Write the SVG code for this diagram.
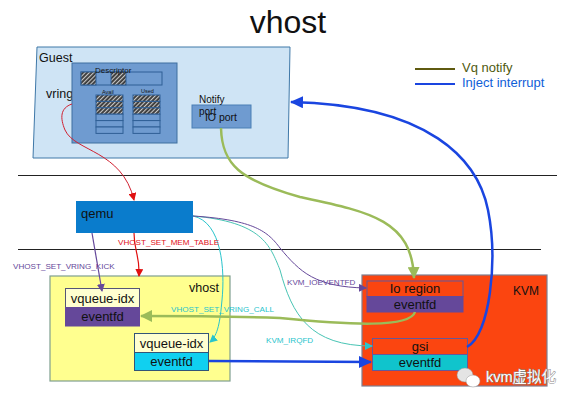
<svg xmlns="http://www.w3.org/2000/svg" width="575" height="405" viewBox="0 0 575 405">
<style>
text{font-family:"Liberation Sans",Arial,"Noto Sans CJK SC",sans-serif;fill:#111}
.lbl{font-size:8.1px}
.in{fill:#6f9bd0;stroke:#2f5f95;stroke-width:1}
.hatch{fill:url(#h);stroke:#2f5f95;stroke-width:1}
.t13{font-size:13px;text-anchor:middle}
</style>
<defs>
<pattern id="h" width="3" height="3" patternUnits="userSpaceOnUse" patternTransform="rotate(45)"><rect width="3" height="3" fill="#3a3a3a"/><rect width="1.1" height="3" fill="#c8c8c8"/></pattern>
<marker id="ar" markerWidth="8" markerHeight="8" refX="7" refY="4" orient="auto" markerUnits="userSpaceOnUse"><path d="M0 0L8 4L0 8Z" fill="#e01010"/></marker>
<marker id="ap" markerWidth="8" markerHeight="8" refX="7" refY="4" orient="auto" markerUnits="userSpaceOnUse"><path d="M0 0L8 4L0 8Z" fill="#65489a"/></marker>
<marker id="ac" markerWidth="8" markerHeight="8" refX="7" refY="4" orient="auto" markerUnits="userSpaceOnUse"><path d="M0 0L8 4L0 8Z" fill="#28c4cc"/></marker>
<marker id="ag" markerWidth="12" markerHeight="12" refX="11" refY="6" orient="auto" markerUnits="userSpaceOnUse"><path d="M0 0L12 6L0 12Z" fill="#9bbb59"/></marker>
<marker id="ab" markerWidth="13" markerHeight="12" refX="12" refY="6" orient="auto" markerUnits="userSpaceOnUse"><path d="M0 0L13 6L0 12Z" fill="#1a45e0"/></marker>
</defs>
<rect width="575" height="405" fill="#fff"/>
<text x="288" y="33" font-size="32" text-anchor="middle">vhost</text>
<g id="separators" stroke="#222" stroke-width="1"><path d="M18 175.500H557M18 249.500H541"/></g>
<g id="legend">
<path d="M415 69H455" stroke="#5f5a10" stroke-width="2"/><path d="M415 84H455" stroke="#1a45e0" stroke-width="2"/>
<text x="462" y="72" font-size="13" style="fill:#4f5a10">Vq notify</text>
<text x="462" y="87" font-size="13" style="fill:#1060d8">Inject interrupt</text>
</g>
<g id="guest">
<path d="M37 47H290L288 158H33Z" fill="#cfe4f5" stroke="#3f78a8"/>
<text x="39" y="62" font-size="12.500">Guest</text>
<text x="46" y="98" font-size="12.500">vring</text>
</g>
<g id="vring">
<rect x="72" y="63" width="105" height="80" fill="#6f9bd0" stroke="#3f6f9f"/>
<rect x="81" y="72" width="81" height="13" class="in"/>
<rect x="81" y="72" width="15" height="13" class="hatch"/>
<rect x="111" y="72" width="15" height="13" class="hatch"/>
<text x="95" y="73" font-size="8">Descriptor</text>
<text x="102" y="94" font-size="5.500">Avail</text>
<text x="141" y="93" font-size="5.500">Used</text>
<g id="avail">
<rect x="96" y="95" width="27" height="6.400" class="hatch"/><rect x="96" y="101.400" width="27" height="6.400" class="hatch"/><rect x="96" y="107.800" width="27" height="6.400" class="hatch"/>
<rect x="96" y="114.200" width="27" height="6.400" class="in"/><rect x="96" y="120.600" width="27" height="6.400" class="in"/><rect x="96" y="127" width="27" height="6.400" class="in"/>
</g>
<g id="used">
<rect x="133" y="95" width="27" height="6.400" class="hatch"/><rect x="133" y="101.400" width="27" height="6.400" class="hatch"/><rect x="133" y="107.800" width="27" height="6.400" class="hatch"/>
<rect x="133" y="114.200" width="27" height="6.400" class="in"/><rect x="133" y="120.600" width="27" height="6.400" class="in"/><rect x="133" y="127" width="27" height="6.400" class="in"/>
</g>
</g>
<g id="io-port">
<rect x="192" y="105" width="59" height="23" fill="#6f9bd0" stroke="#4a7fb5"/>
<text x="199" y="103" font-size="10">Notify</text>
<text x="199" y="115" font-size="10">port</text>
<text x="221" y="121" font-size="10.500" text-anchor="middle">IO port</text>
</g>
<g id="qemu"><rect x="76" y="201" width="117" height="32" fill="#0a7ccc"/><text x="81" y="218" font-size="13">qemu</text></g>
<g id="vhost-box">
<rect x="50" y="276" width="180" height="105" fill="#ffff8f" stroke="#7f9f8f" stroke-width="1.200"/>
<text x="189" y="292" font-size="12.500">vhost</text>
</g>
<g id="vq1">
<rect x="65.500" y="288.500" width="74" height="19" fill="#ffffd0" stroke="#557"/>
<rect x="65.500" y="307.500" width="74" height="18.500" fill="#65489a" stroke="#65489a"/>
<text x="102.500" y="303" class="t13">vqueue-idx</text>
<text x="102.500" y="321" class="t13">eventfd</text>
</g>
<g id="vq2">
<rect x="134.500" y="333.500" width="74" height="19" fill="#ffffd0" stroke="#357"/>
<rect x="134.500" y="352.500" width="74" height="18" fill="#10d0f0" stroke="#357"/>
<text x="171.500" y="348" class="t13">vqueue-idx</text>
<text x="171.500" y="366" class="t13">eventfd</text>
</g>
<g id="kvm">
<rect x="362" y="275" width="185" height="111" fill="#fb4510" stroke="#7f7f8f" stroke-width="1.200"/>
<text x="513" y="295" font-size="12">KVM</text>
</g>
<g id="io-region">
<rect x="367" y="281" width="96" height="15.500" fill="#fb4510" stroke="#65589a"/>
<rect x="367" y="296.500" width="96" height="15.500" fill="#65489a" stroke="#65489a"/>
<text x="415" y="293" font-size="13" text-anchor="middle">Io region</text>
<text x="415" y="309" font-size="13" text-anchor="middle">eventfd</text>
</g>
<g id="gsi">
<rect x="372.500" y="338.500" width="95" height="16" fill="#fb4510" stroke="#65589a"/>
<rect x="372.500" y="354.500" width="95" height="16" fill="#10c4cc" stroke="#65589a"/>
<text x="420" y="351" font-size="13" text-anchor="middle">gsi</text>
<text x="420" y="367" font-size="13" text-anchor="middle">eventfd</text>
</g>
<g id="connectors">
<path d="M72 104C60 108 60 118 65 130C75 152 122 150 134 200" fill="none" stroke="#d02030" stroke-width="1" marker-end="url(#ar)"/>
<path d="M134 233C134 252 140 255 139 276" fill="none" stroke="#e01010" stroke-width="1.200" marker-end="url(#ar)"/>
<path d="M92 233L102 291" fill="none" stroke="#65489a" stroke-width="1.200" marker-end="url(#ap)"/>
<path d="M193 216C222 222 225 270 222 300C220 322 218 335 210 342" fill="none" stroke="#28c4cc" stroke-width="1" marker-end="url(#ac)"/>
<path d="M193 216C262 222 270 245 280 270C292 315 310 346 372 346" fill="none" stroke="#48c4b4" stroke-width="1" marker-end="url(#ac)"/>
<path d="M193 216C255 220 268 232 280 248C300 272 315 287 366 288" fill="none" stroke="#65489a" stroke-width="1" marker-end="url(#ap)"/>
<path d="M221 128C222 165 240 180 300 197C370 212 412 220 414 278" fill="none" stroke="#9bbb59" stroke-width="2.500" marker-end="url(#ag)"/>
<path d="M415 312C410 328 350 325 280 318C220 316 180 316 141 316" fill="none" stroke="#9bbb59" stroke-width="2.500" marker-end="url(#ag)"/>
<path d="M209 361C270 361 310 362 371 362" fill="none" stroke="#1a45e0" stroke-width="2.500" marker-end="url(#ab)"/>
<path d="M467 347C490 335 498 260 488 210C478 160 430 105 291 102" fill="none" stroke="#1a45e0" stroke-width="2.500" marker-end="url(#ab)"/>
</g>
<g id="connector-labels">
<text x="118" y="245" class="lbl" style="fill:#e01020">VHOST_SET_MEM_TABLE</text>
<text x="13" y="269" class="lbl" style="fill:#65489a">VHOST_SET_VRING_KICK</text>
<text x="171" y="312" class="lbl" style="fill:#28c4cc">VHOST_SET_VRING_CALL</text>
<text x="287" y="285" class="lbl" style="fill:#65489a">KVM_IOEVENTFD</text>
<text x="266" y="343" class="lbl" style="fill:#28c4cc">KVM_IRQFD</text>
</g>
<g id="watermark">
<ellipse cx="465" cy="375" rx="8" ry="7" fill="#e4e4e4" stroke="#999" stroke-width=".5"/><ellipse cx="473" cy="381" rx="7" ry="6" fill="#fff" stroke="#999" stroke-width=".5"/>
<text x="486" y="382" font-size="14.500" stroke="#888" stroke-width="1" paint-order="stroke" style="fill:#fff">kvm虚拟化</text>
</g>
</svg>
